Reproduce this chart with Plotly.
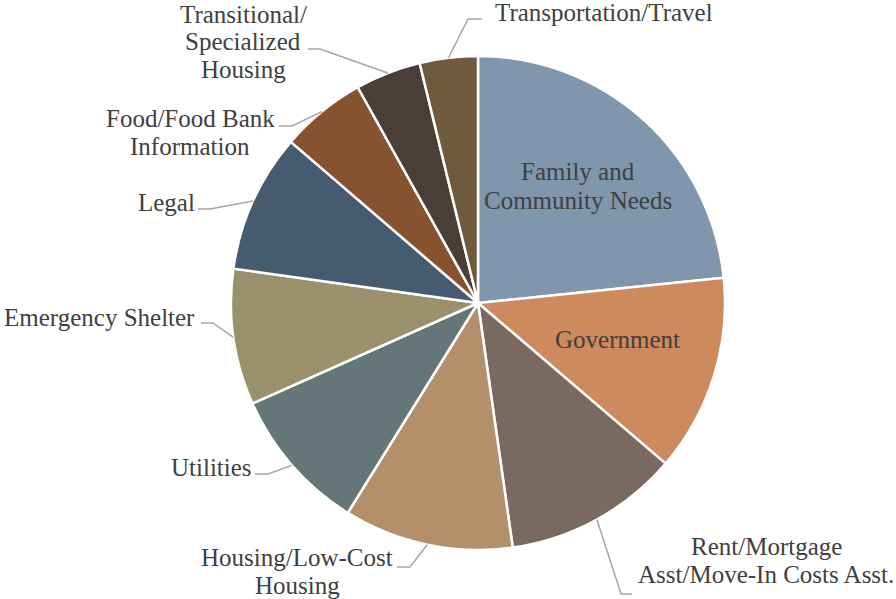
import math
import plotly.graph_objects as go

# ---- data ----
categories = [
    "Family and Community Needs",
    "Government",
    "Rent/Mortgage Asst/Move-In Costs Asst.",
    "Housing/Low-Cost Housing",
    "Utilities",
    "Emergency Shelter",
    "Legal",
    "Food/Food Bank Information",
    "Transitional/Specialized Housing",
    "Transportation/Travel",
]
values = [23.4, 12.9, 11.5, 11.1, 9.5, 8.9, 9.1, 5.6, 4.3, 3.8]
label_lines = [
    ["Family and", "Community Needs"],
    ["Government"],
    ["Rent/Mortgage", "Asst/Move-In Costs Asst."],
    ["Housing/Low-Cost", "Housing"],
    ["Utilities"],
    ["Emergency Shelter"],
    ["Legal"],
    ["Food/Food Bank", "Information"],
    ["Transitional/", "Specialized", "Housing"],
    ["Transportation/Travel"],
]

# ---- styles / layout ----
colors = ["#7F96AD", "#CC8A5E", "#7A6960", "#B3906A", "#647677",
          "#9B906C", "#465B70", "#87532E", "#4A3F38", "#705A3C"]
W, H = 896, 599
CX, CY, R = 478, 303, 247
FONT = "Liberation Serif"
FSIZE = 25
TEXT_COLOR = "#404040"
LINE_COLOR = "#A6A6A6"
LINE_SPACING = 28

# label placement (pixel): (x, first line y, xanchor)
label_pos = [
    (578, 172, "center"),
    (617, 339, "center"),
    (766, 546, "center"),
    (297, 557, "center"),
    (211, 467, "center"),
    (99, 317, "center"),
    (166, 202, "center"),
    (190, 118, "center"),
    (243, 14, "center"),
    (493, 12, "left"),
]
# leader elbows and ends (pixel); None = inside label
leader_pts = [
    None,
    None,
    [(621, 594), (632, 594)],
    [(410, 567), (397, 567)],
    [(268, 474), (255, 474)],
    [(213, 323), (201, 323)],
    [(210, 209), (198, 209)],
    [(292, 126), (279, 126)],
    [(320, 49), (308, 49)],
    [(468, 19), (482, 19)],
]


def px(x):
    return x / W


def py(y):
    return 1 - y / H


fig = go.Figure(go.Pie(
    labels=categories,
    values=values,
    sort=False,
    direction="clockwise",
    rotation=0,
    textinfo="none",
    hoverinfo="label+percent",
    marker=dict(colors=colors, line=dict(color="white", width=2.5)),
    domain=dict(x=[px(CX - R), px(CX + R)], y=[py(CY + R), py(CY - R)]),
    showlegend=False,
))

total = sum(values)
annotations = []
shapes = []
cum = 0.0
for i, v in enumerate(values):
    mid = (cum + v / 2) / total * 2 * math.pi
    cum += v
    sx = CX + R * math.sin(mid)
    sy = CY - R * math.cos(mid)
    x, y0, xa = label_pos[i]
    for j, line in enumerate(label_lines[i]):
        annotations.append(dict(
            x=px(x), y=py(y0 + j * LINE_SPACING), xref="paper", yref="paper",
            text=line, showarrow=False, xanchor=xa, yanchor="middle",
            font=dict(family=FONT, size=FSIZE, color=TEXT_COLOR),
        ))
    if leader_pts[i]:
        pts = [(sx, sy)] + leader_pts[i]
        path = "M " + " L ".join(f"{px(a)},{py(b)}" for a, b in pts)
        shapes.append(dict(type="path", path=path, xref="paper", yref="paper",
                           line=dict(color=LINE_COLOR, width=1.5)))

fig.update_layout(
    width=W, height=H,
    margin=dict(l=0, r=0, t=0, b=0),
    paper_bgcolor="white", plot_bgcolor="white",
    annotations=annotations, shapes=shapes,
)
fig.write_html(
    "out.html",
    config={"displayModeBar": False},
    post_script="document.body.style.margin='0px';document.body.style.overflow='hidden';",
)
